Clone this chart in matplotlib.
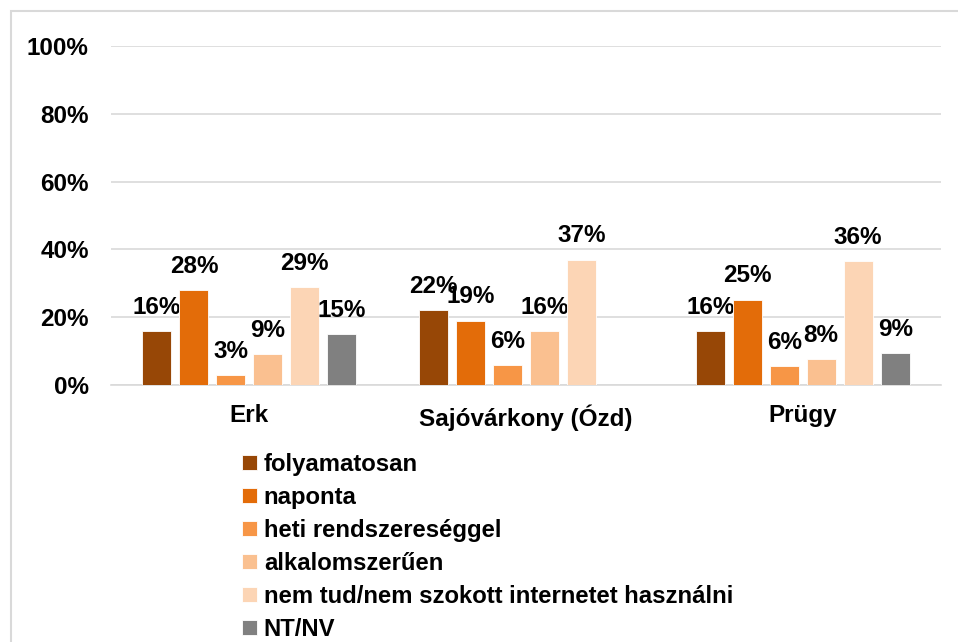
import matplotlib.pyplot as plt
import numpy as np
from matplotlib.patches import Rectangle

plt.rcParams['font.family'] = ['Liberation Sans', 'DejaVu Sans']
plt.rcParams['font.weight'] = 'bold'

# adatok
telepulesek = ['Erk', 'Sajóvárkony (Ózd)', 'Prügy']
kategoriak = ['folyamatosan', 'naponta', 'heti rendszereséggel', 'alkalomszerűen',
              'nem tud/nem szokott internetet használni', 'NT/NV']
folyamatosan = [16, 22, 15.8]
naponta = [28, 19, 25.2]
heti = [3, 6, 5.6]
alkalom = [9, 16, 7.6]
nem_tud = [29, 37, 36.5]
nt_nv = [15, np.nan, 9.3]
sorozatok = [folyamatosan, naponta, heti, alkalom, nem_tud, nt_nv]

szinek = ['#974706', '#E36C09', '#F79646', '#FAC090', '#FCD5B5', '#808080']

fig = plt.figure(figsize=(9.58, 6.42), dpi=100)
ax = fig.add_axes([0.1159, 0.4003, 0.8664, 0.528])

x = np.arange(len(telepulesek))
lepes = 0.1337
szel = 0.105
handles = []
for j, (vals, c) in enumerate(zip(sorozatok, szinek)):
    pos = x + (j - 2.5) * lepes
    b = ax.bar(pos, vals, width=szel, color=c, edgecolor='white', linewidth=0.6, zorder=3)
    handles.append(b)
    for p, v in zip(pos, vals):
        if np.isnan(v):
            continue
        ax.annotate(f'{v:.0f}%', (p, v), xytext=(0, 17), textcoords='offset points',
                    ha='center', va='center', fontsize=17.5, fontweight='bold')

ax.set_xlim(-0.5, 2.5)
ax.set_ylim(0, 100)
ax.set_yticks(np.arange(0, 101, 20))
ax.set_yticklabels([f'{t}%' for t in range(0, 101, 20)])
ax.set_xticks(x)
ax.set_xticklabels(telepulesek)
ax.tick_params(axis='both', length=0, labelsize=17.5)
ax.tick_params(axis='y', pad=16)
ax.tick_params(axis='x', pad=14)
ax.grid(axis='y', color='#d9d9d9', linewidth=1.2, zorder=0)
for s in ['top', 'right', 'left']:
    ax.spines[s].set_visible(False)
ax.spines['bottom'].set_color('#d9d9d9')
ax.spines['bottom'].set_linewidth(1.2)

fig.legend(handles, kategoriak, loc='upper left', bbox_to_anchor=(0.253, 0.295),
           frameon=False, fontsize=17.2, handlelength=0.6, handleheight=0.6,
           handletextpad=0.3, labelspacing=0.42, borderaxespad=0, borderpad=0)

# keret
fig.patches.append(Rectangle((11 / 958, -0.2), 1.2, 1.2 - 11 / 642, transform=fig.transFigure,
                             fill=False, edgecolor='#d9d9d9', linewidth=1.5))

fig.savefig('out.png', dpi=100)
